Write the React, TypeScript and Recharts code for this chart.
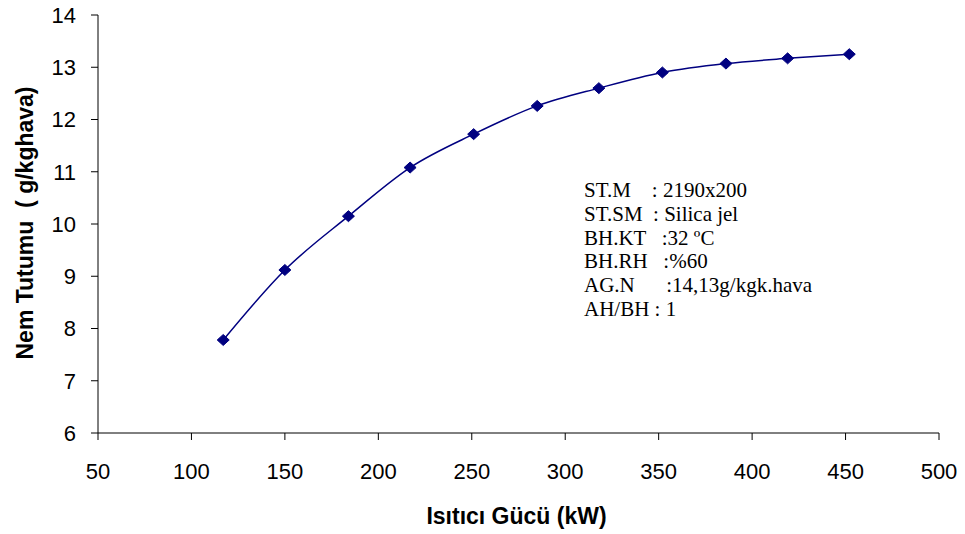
import { CartesianGrid, Customized, Line, LineChart, XAxis, YAxis } from 'recharts';

const heaterPower = [117, 150, 184, 217, 251, 285, 318, 352, 386, 419, 452];
const moistureHold = [7.78, 9.12, 10.15, 11.08, 11.72, 12.26, 12.6, 12.9, 13.07, 13.17, 13.25];
const xTicks = [50, 100, 150, 200, 250, 300, 350, 400, 450, 500];
const yTicks = [6, 7, 8, 9, 10, 11, 12, 13, 14];
const notes = [
  'ST.M    : 2190x200',
  'ST.SM  : Silica jel',
  'BH.KT   :32 ºC',
  'BH.RH   :%60',
  'AG.N      :14,13g/kgk.hava',
  'AH/BH : 1',
];

const data = heaterPower.map((x, i) => ({ x, y: moistureHold[i] }));

const NAVY = '#000080';
const SANS = '"Liberation Sans", Arial, sans-serif';

function Diamond(props: any) {
  const { cx, cy } = props;
  if (cx == null || cy == null) return null;
  return (
    <path
      d={`M${cx},${cy - 5.5} L${cx + 6},${cy} L${cx},${cy + 5.5} L${cx - 6},${cy} Z`}
      fill={NAVY}
      stroke={NAVY}
    />
  );
}

function Notes() {
  return (
    <g>
      {notes.map((line, i) => (
        <text
          key={i}
          x={584}
          y={197 + i * 23.8}
          fontFamily='"Liberation Serif", "Times New Roman", serif'
          fontSize={21}
          fill="#000"
          style={{ whiteSpace: 'pre' }}
        >
          {line}
        </text>
      ))}
    </g>
  );
}

export default function App() {
  return (
    <div style={{ position: 'absolute', left: 0, top: 0, background: '#fff' }}>
      <LineChart
        width={965}
        height={534}
        data={data}
        margin={{ top: 15, right: 26, bottom: 0, left: 0 }}
      >
        <CartesianGrid stroke="none" />
        <XAxis
          dataKey="x"
          type="number"
          domain={[50, 500]}
          ticks={xTicks}
          interval={0}
          height={101}
          stroke="#000"
          tickSize={7}
          tickMargin={23}
          tick={{ fill: '#000', fontSize: 22, fontFamily: SANS }}
          label={{
            content: ({ viewBox }: any) => (
              <text
                x={viewBox.x + viewBox.width / 2 - 2}
                y={524}
                textAnchor="middle"
                fontFamily={SANS}
                fontWeight="bold"
                fontSize={23}
                fill="#000"
              >
                Isıtıcı Gücü (kW)
              </text>
            ),
          }}
        />
        <YAxis
          type="number"
          domain={[6, 14]}
          ticks={yTicks}
          interval={0}
          width={98}
          stroke="#000"
          tickSize={7}
          tickMargin={15}
          tick={{ fill: '#000', fontSize: 22, fontFamily: SANS }}
          label={{
            content: () => (
              <text
                x={0}
                y={0}
                transform="translate(33, 223) rotate(-90)"
                textAnchor="middle"
                fontFamily={SANS}
                fontWeight="bold"
                fontSize={23}
                fill="#000"
                style={{ whiteSpace: 'pre' }}
              >
                {'Nem Tutumu  ( g/kghava)'}
              </text>
            ),
          }}
        />
        <Line
          type="monotone"
          dataKey="y"
          stroke={NAVY}
          strokeWidth={1.5}
          dot={<Diamond />}
          activeDot={false}
          isAnimationActive={false}
        />
        <Customized component={Notes} />
      </LineChart>
    </div>
  );
}
